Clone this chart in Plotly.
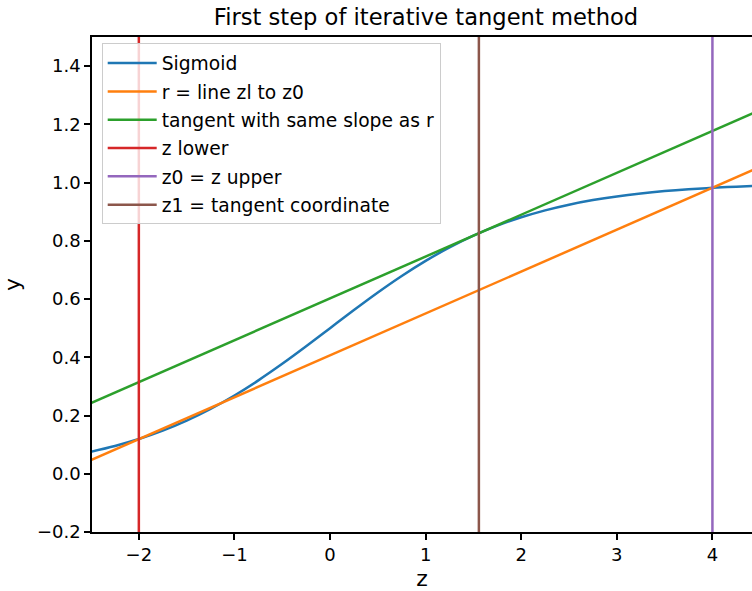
import plotly.graph_objects as go

# Sigmoid curve samples (z, y)
sig_z = [-2.5, -2.25, -2.0, -1.75, -1.5, -1.25, -1.0, -0.75, -0.5, -0.25, 0.0,
         0.25, 0.5, 0.75, 1.0, 1.25, 1.5, 1.75, 2.0, 2.25, 2.5, 2.75, 3.0,
         3.25, 3.5, 3.75, 4.0, 4.25, 4.5]
sig_y = [0.0759, 0.0953, 0.1192, 0.1480, 0.1824, 0.2227, 0.2689, 0.3208,
         0.3775, 0.4378, 0.5000, 0.5622, 0.6225, 0.6792, 0.7311, 0.7773,
         0.8176, 0.8520, 0.8808, 0.9047, 0.9241, 0.9399, 0.9526, 0.9627,
         0.9707, 0.9770, 0.9820, 0.9860, 0.9890]

# Secant r through (z lower, sigmoid) and (z0, sigmoid), end points
r_z = [-2.5, 4.5]
r_y = [0.047, 1.054]

# Tangent at z1 with the same slope as r, end points
tan_z = [-2.5, 4.5]
tan_y = [0.243, 1.249]

# Vertical marker positions
z_lower = -2.0
z_upper = 4.0
z_tangent = 1.557

x_ticks = [-2, -1, 0, 1, 2, 3, 4]
x_tick_text = ["\u22122", "\u22121", "0", "1", "2", "3", "4"]
y_ticks = [-0.2, 0.0, 0.2, 0.4, 0.6, 0.8, 1.0, 1.2, 1.4]
y_tick_text = ["\u22120.2", "0.0", "0.2", "0.4", "0.6", "0.8", "1.0", "1.2", "1.4"]

y_lo, y_hi = -0.2, 1.5

FONT = "DejaVu Sans"
LW = 2.5

fig = go.Figure()

def add_line(x, y, name, color, shape="linear"):
    fig.add_trace(go.Scatter(
        x=x, y=y, mode="lines", name=name, legendgroup=name,
        line=dict(color=color, width=LW, shape=shape),
        hoverinfo="skip",
    ))

add_line(sig_z, sig_y, "Sigmoid", "#1f77b4", shape="spline")
add_line(r_z, r_y, "r = line zl to z0", "#ff7f0e")
add_line(tan_z, tan_y, "tangent with same slope as r", "#2ca02c")
add_line([z_lower, z_lower], [y_lo, y_hi], "z lower", "#d62728")
add_line([z_upper, z_upper], [y_lo, y_hi], "z0 = z upper", "#9467bd")
add_line([z_tangent, z_tangent], [y_lo, y_hi], "z1 = tangent coordinate", "#8c564b")

fig.update_layout(
    width=752, height=591,
    margin=dict(l=92, r=0, t=37, b=57),
    paper_bgcolor="white", plot_bgcolor="white",
    font=dict(family=FONT, size=18, color="#000000"),
    title=dict(
        text="First step of iterative tangent method",
        font=dict(family=FONT, size=22.6, color="#000000"),
        x=426 / 752, xref="container", xanchor="center",
        y=1 - 17 / 591, yref="container", yanchor="middle",
    ),
    showlegend=True,
    legend=dict(
        x=0.0147, y=0.987, xanchor="left", yanchor="top",
        bgcolor="rgba(255,255,255,0.8)", bordercolor="#cccccc", borderwidth=1,
        font=dict(family=FONT, size=18.7, color="#000000"),
        tracegroupgap=1, itemwidth=49,
    ),
    xaxis=dict(
        range=[-2.49, 4.414], showgrid=False, zeroline=False,
        showline=True, linecolor="black", linewidth=1.5, mirror=True,
        ticks="outside", ticklen=6, tickwidth=1.5, tickcolor="black",
        tickvals=x_ticks, ticktext=x_tick_text,
        title=dict(text="z", standoff=10),
    ),
    yaxis=dict(
        range=[y_lo, y_hi], showgrid=False, zeroline=False,
        showline=True, linecolor="black", linewidth=1.5,
        ticks="outside", ticklen=6, tickwidth=1.5, tickcolor="black",
        tickvals=y_ticks, ticktext=y_tick_text,
        title=dict(text="y", standoff=12),
    ),
)

fig.write_html("out.html")
